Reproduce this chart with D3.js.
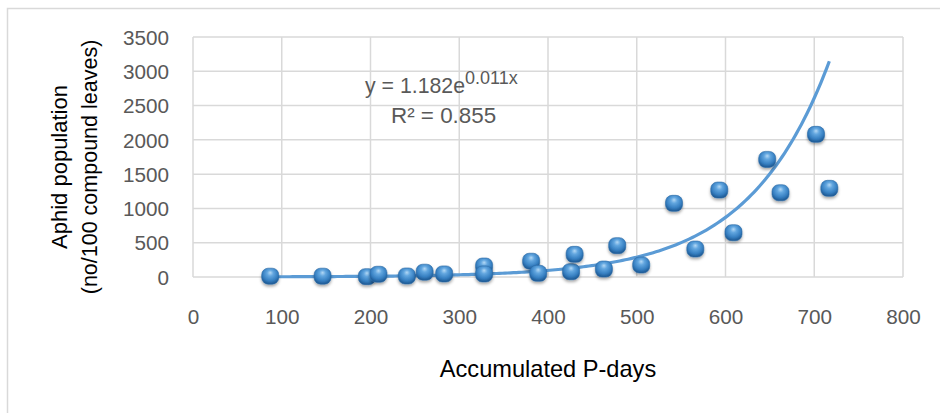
<!DOCTYPE html>
<html>
<head>
<meta charset="utf-8">
<script src="https://cdn.jsdelivr.net/npm/d3@7"></script>
<style>
  html, body { margin: 0; padding: 0; background: #ffffff; }
  svg { display: block; }
  text { font-family: "Liberation Sans", Arial, sans-serif; }
</style>
</head>
<body>
<svg id="chart" width="940" height="413"></svg>
<script>
// ---- data ----
const pDays = [87, 146, 196, 209, 241, 261, 283, 328, 328, 381, 389, 426, 430, 463, 478, 505, 542, 566, 593, 609, 647, 662, 702, 717];
const aphids = [12, 12, 5, 40, 15, 70, 45, 160, 45, 230, 54, 78, 330, 116, 457, 175, 1074, 408, 1268, 646, 1715, 1229, 2080, 1293];
const xTicks = [0, 100, 200, 300, 400, 500, 600, 700, 800];
const yTicks = [0, 500, 1000, 1500, 2000, 2500, 3000, 3500];
// exponential trendline shown on the chart: y = 1.182 e^(0.011x)
const trendA = 1.182;
const trendB = 0.011;
const trendR2 = "0.855";
const xTitle = "Accumulated P-days";
const yTitle = ["Aphid population", "(no/100 compound leaves)"];

// ---- layout ----
const svg = d3.select("#chart");
const x = d3.scaleLinear().domain([0, 800]).range([193, 903]);
const y = d3.scaleLinear().domain([0, 3500]).range([277, 37]);

svg.append("rect").attr("width", 940).attr("height", 413).attr("fill", "#fff");
// chart area border (left/top edges visible)
svg.append("rect")
  .attr("x", 7.5).attr("y", 8.5).attr("width", 1000).attr("height", 1000)
  .attr("fill", "none").attr("stroke", "#d9d9d9").attr("stroke-width", 1.5);

const defs = svg.append("defs");
const grad = defs.append("radialGradient").attr("id", "ball")
  .attr("cx", "50%").attr("cy", "38%").attr("r", "62%").attr("fx", "50%").attr("fy", "28%");
[["0%", "#b3d8f5"], ["30%", "#62a6df"], ["70%", "#3780c2"], ["100%", "#1d5892"]]
  .forEach(([o, c]) => grad.append("stop").attr("offset", o).attr("stop-color", c));
const f = defs.append("filter").attr("id", "shadow").attr("x", "-50%").attr("y", "-50%").attr("width", "200%").attr("height", "200%");
f.append("feDropShadow").attr("dx", 0).attr("dy", 2).attr("stdDeviation", 1.6)
  .attr("flood-color", "#000").attr("flood-opacity", 0.35);

// gridlines
const grid = svg.append("g").attr("stroke", "#d9d9d9").attr("stroke-width", 1.5);
grid.selectAll("line.h").data(yTicks).join("line").attr("class", "h")
  .attr("x1", x(0)).attr("x2", x(800))
  .attr("y1", d => y(d)).attr("y2", d => y(d));
grid.selectAll("line.v").data(xTicks).join("line").attr("class", "v")
  .attr("y1", y(0)).attr("y2", y(3500))
  .attr("x1", d => x(d)).attr("x2", d => x(d));

// axes
const xAxis = svg.append("g").attr("transform", `translate(0,${y(0)})`)
  .call(d3.axisBottom(x).tickValues(xTicks).tickSize(0).tickFormat(d3.format("d")));
xAxis.select(".domain").remove();
xAxis.selectAll("text").attr("y", 47).attr("dy", 0)
  .attr("fill", "#595959").style("font-size", "20.7px").style("font-family", '"Liberation Sans", Arial, sans-serif');

const yAxis = svg.append("g").attr("transform", `translate(${x(0)},0)`)
  .call(d3.axisLeft(y).tickValues(yTicks).tickSize(0).tickFormat(d3.format("d")));
yAxis.select(".domain").remove();
yAxis.selectAll("text").attr("x", -24).attr("dy", "0.35em")
  .attr("fill", "#595959").style("font-size", "20.7px").style("font-family", '"Liberation Sans", Arial, sans-serif');

// axis titles
svg.append("text").attr("x", 548).attr("y", 377).attr("text-anchor", "middle")
  .attr("fill", "#000").style("font-size", "23.6px").text(xTitle);
const yt = svg.append("g").attr("transform", "translate(0,167) rotate(-90)");
yt.append("text").attr("x", 0).attr("y", 66.5).attr("text-anchor", "middle")
  .attr("fill", "#000").style("font-size", "22px").text(yTitle[0]);
yt.append("text").attr("x", 0).attr("y", 96.5).attr("text-anchor", "middle")
  .attr("fill", "#000").style("font-size", "21.5px").text(yTitle[1]);

// trendline (from the chart's equation, over the data range)
const [xmin, xmax] = d3.extent(pDays);
const trendXs = d3.range(xmin, xmax + 0.01, (xmax - xmin) / 200);
svg.append("path")
  .datum(trendXs)
  .attr("fill", "none").attr("stroke", "#5b9bd5").attr("stroke-width", 3.2)
  .attr("d", d3.line().x(d => x(d)).y(d => y(trendA * Math.exp(trendB * d))));

// markers
const pts = pDays.map((d, i) => ({ x: d, y: aphids[i] }));
svg.append("g").selectAll("rect").data(pts).join("rect")
  .attr("x", d => x(d.x) - 8.5).attr("y", d => y(d.y) - 8)
  .attr("width", 17).attr("height", 16).attr("rx", 6.5).attr("ry", 6.5)
  .attr("fill", "url(#ball)").attr("stroke", "#2a6aa6").attr("stroke-width", 0.6)
  .attr("filter", "url(#shadow)");

// equation label
const eq = svg.append("text").attr("x", 365).attr("y", 93)
  .attr("fill", "#595959").style("font-size", "21.3px");
eq.append("tspan").text(`y = ${trendA}e`);
eq.append("tspan").attr("dy", -9).style("font-size", "18px").text(`${trendB}x`);
svg.append("text").attr("x", 391).attr("y", 123)
  .attr("fill", "#595959").style("font-size", "22.4px").text(`R² = ${trendR2}`);
</script>
</body>
</html>
